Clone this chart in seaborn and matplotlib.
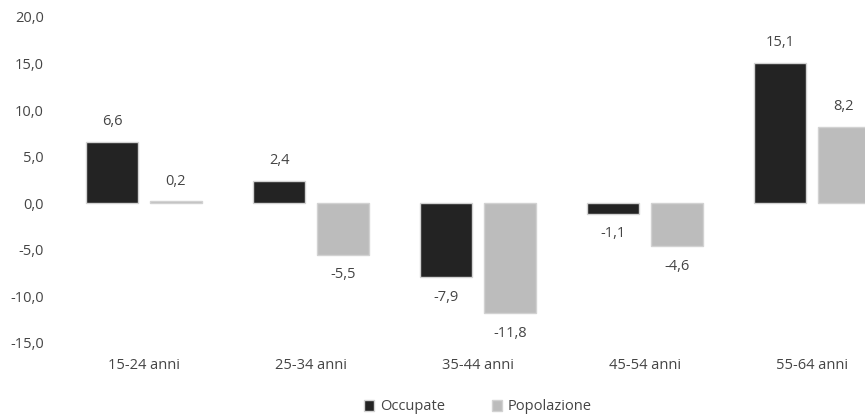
import matplotlib
matplotlib.use("Agg")
import matplotlib.pyplot as plt
import seaborn as sns
import pandas as pd

# Variazione percentuale per classe di età
categories = ["15-24 anni", "25-34 anni", "35-44 anni", "45-54 anni", "55-64 anni"]
occupate = [6.6, 2.4, -7.9, -1.1, 15.1]
popolazione = [0.2, -5.5, -11.8, -4.6, 8.2]
series_names = ["Occupate", "Popolazione"]
y_ticks = [-15, -10, -5, 0, 5, 10, 15, 20]

df = pd.DataFrame({
    "classe": categories * 2,
    "serie": [series_names[0]] * len(categories) + [series_names[1]] * len(categories),
    "valore": occupate + popolazione,
})

sns.set_theme(style="white")
plt.rcParams["font.family"] = ["Open Sans", "DejaVu Sans"]
text_color = "#454545"

fig = plt.figure(figsize=(8.65, 4.18), dpi=100)
# the plot area runs slightly past the right edge of the figure
ax = fig.add_axes([60.5 / 865, 1 - 343 / 418, 835 / 865, 326 / 418])

palette = {"Occupate": "#232323", "Popolazione": "#bcbcbc"}
sns.barplot(data=df, x="classe", y="valore", hue="serie", order=categories,
            hue_order=series_names, palette=palette, width=0.766, gap=0.19,
            edgecolor="#d2d2d2", linewidth=1.0, saturation=1, ax=ax)

ax.set_xlim(-0.5, len(categories) - 0.5)
ax.set_ylim(-15, 20)
ax.set_yticks(y_ticks)
ax.set_yticklabels([f"{t:.1f}".replace(".", ",") for t in y_ticks])
ax.set_xlabel("")
ax.set_ylabel("")
ax.tick_params(axis="y", length=0, pad=12, labelsize=10.5, labelcolor=text_color)
ax.tick_params(axis="x", length=0, pad=11, labelsize=10.5, labelcolor=text_color)
for s in ax.spines.values():
    s.set_visible(False)
ax.grid(False)

# value labels above positive bars, below negative ones
for container in ax.containers:
    for bar in container:
        val = bar.get_y() + bar.get_height() if bar.get_y() >= 0 else bar.get_y()
        x = bar.get_x() + bar.get_width() / 2
        off = 14.5 if val >= 0 else -14.5
        ax.annotate(f"{val:.1f}".replace(".", ","), (x, val), xytext=(0, off),
                    textcoords="offset points", ha="center", va="center",
                    fontsize=10.5, color=text_color)

handles, labels = ax.get_legend_handles_labels()
ax.get_legend().remove()
fig.legend(handles, labels, loc="center", bbox_to_anchor=(478 / 865, 1 - 407 / 418),
           ncol=2, frameon=False, fontsize=10.5, labelcolor=text_color,
           handlelength=0.7, handleheight=0.7, handletextpad=0.4, columnspacing=3.2)

fig.savefig("out.png", dpi=100)
